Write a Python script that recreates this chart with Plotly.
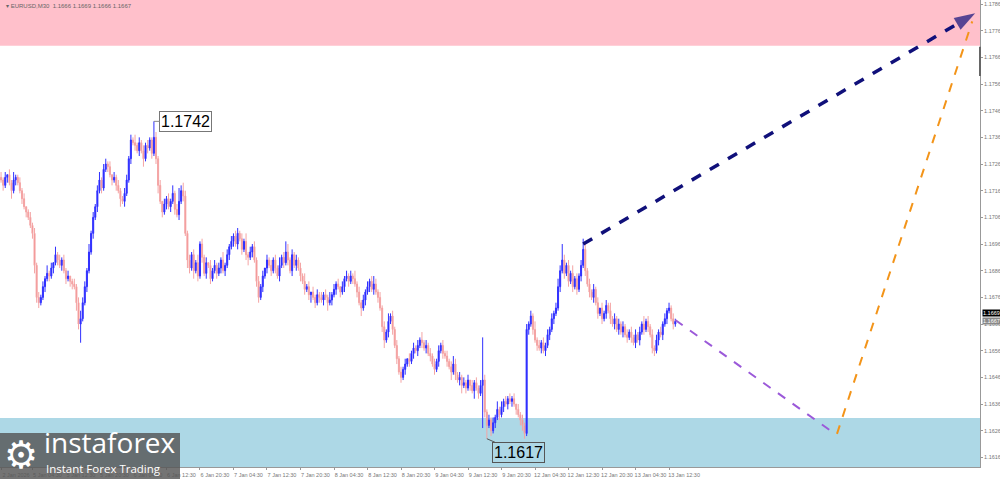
import pandas as pd
import plotly.graph_objects as go

# ---------------- data (prices in pips above 1.1600) ----------------
header_text = "\u25be EURUSD,M30  1.1666 1.1669 1.1666 1.1667"
first_open = 121
closes = [
    120, 118, 121, 122, 119, 116, 120, 121, 119, 116,
    113, 110, 108, 106, 103, 100, 88, 76, 74, 76,
    80, 83, 85, 84, 87, 89, 92, 90, 88, 90,
    86, 83, 84, 82, 81, 80, 74, 66, 68, 74,
    80, 86, 93, 100, 106, 110, 116, 120, 117, 124,
    126, 125, 122, 120, 121, 118, 116, 113, 112, 115,
    120, 128, 135, 134, 133, 131, 134, 131, 128, 133,
    132, 135, 130, 136, 128, 118, 112, 108, 111, 113,
    110, 112, 115, 109, 107, 112, 116, 114, 100, 90,
    87, 92, 86, 89, 84, 96, 91, 85, 89, 88,
    83, 86, 88, 85, 87, 90, 86, 88, 92, 95,
    97, 99, 96, 100, 98, 94, 97, 92, 91, 93,
    95, 90, 82, 76, 80, 84, 87, 90, 88, 86,
    90, 87, 84, 88, 91, 89, 93, 90, 86, 92,
    88, 90, 87, 84, 82, 79, 80, 77, 78, 76,
    74, 77, 76, 75, 77, 76, 74, 75, 77, 79,
    81, 80, 78, 80, 83, 84, 82, 84, 83, 81,
    78, 74, 72, 75, 78, 80, 82, 79, 81, 78,
    76, 72, 65, 60, 63, 67, 69, 64, 58, 53,
    48, 46, 49, 51, 53, 52, 55, 57, 56, 58,
    60, 59, 57, 58, 55, 54, 51, 49, 52, 56,
    58, 55, 54, 52, 50, 48, 51, 47, 45, 46,
    43, 44, 42, 45, 43, 41, 44, 42, 40, 43,
    45, 33, 28, 30, 26, 29, 31, 34, 32, 35,
    37, 36, 38, 37, 38, 36, 34, 32, 30, 28,
    25, 64, 66, 69, 64, 60, 58, 57, 59, 56,
    58, 62, 64, 68, 70, 72, 80, 86, 90, 85,
    88, 82, 85, 80, 83, 79, 84, 88, 94, 86,
    81, 78, 76, 79, 74, 70, 72, 68, 70, 73,
    71, 68, 66, 68, 64, 66, 63, 65, 62, 61,
    63, 61, 59, 62, 60, 63, 66, 64, 67, 65,
    62, 57, 56, 60, 63, 62, 66, 68, 71, 72,
    68, 66, 67,
]
upper_wick = [
    2, 1, 2, 0, 2, 1, 3, 1, 1, 2,
    1, 2, 0, 1, 2, 1, 2, 1, 2, 1,
    2, 1, 3, 1, 2, 0, 3, 1, 2, 1,
    2, 1, 2, 0, 1, 2, 1, 2, 3, 2,
    2, 1, 3, 1, 2, 1, 2, 3, 1, 2,
    2, 1, 2, 0, 2, 1, 2, 1, 1, 2,
    2, 1, 2, 1, 3, 1, 2, 1, 2, 1,
    2, 1, 1, 6, 2, 1, 2, 0, 2, 1,
    2, 1, 3, 1, 2, 5, 2, 3, 2, 1,
    2, 1, 2, 1, 3, 1, 2, 1, 2, 0,
    2, 1, 2, 1, 2, 1, 3, 1, 2, 1,
    2, 1, 2, 2, 1, 2, 1, 3, 1, 2,
    1, 2, 1, 2, 1, 2, 0, 2, 1, 2,
    1, 2, 1, 3, 1, 2, 4, 3, 1, 2,
    1, 2, 1, 2, 1, 3, 1, 2, 0, 2,
    1, 2, 1, 2, 1, 2, 1, 3, 1, 2,
    1, 2, 0, 2, 1, 2, 1, 2, 1, 3,
    1, 2, 1, 2, 1, 2, 1, 2, 3, 2,
    1, 2, 1, 2, 1, 3, 1, 2, 1, 2,
    1, 2, 1, 2, 0, 2, 1, 2, 1, 2,
    1, 3, 1, 2, 1, 2, 1, 2, 1, 2,
    1, 2, 1, 2, 1, 2, 3, 2, 1, 2,
    1, 2, 1, 2, 0, 2, 1, 2, 1, 2,
    16, 2, 1, 2, 1, 2, 1, 3, 1, 2,
    1, 2, 1, 2, 1, 2, 0, 2, 1, 2,
    1, 2, 1, 2, 1, 3, 1, 2, 1, 2,
    1, 2, 1, 2, 1, 2, 3, 2, 6, 2,
    1, 2, 1, 3, 1, 2, 1, 2, 4, 2,
    1, 2, 1, 2, 1, 2, 0, 2, 1, 2,
    1, 3, 1, 2, 1, 2, 1, 2, 1, 2,
    1, 2, 1, 2, 1, 2, 1, 3, 1, 2,
    1, 2, 1, 2, 1, 2, 1, 2, 1, 2,
    1, 2, 1,
]
lower_wick = [
    1, 2, 1, 2, 1, 3, 1, 2, 1, 1,
    2, 1, 2, 1, 1, 2, 3, 2, 2, 1,
    1, 2, 1, 2, 1, 2, 1, 2, 1, 2,
    1, 2, 1, 2, 2, 1, 3, 2, 7, 1,
    1, 2, 1, 1, 2, 1, 2, 1, 2, 1,
    1, 2, 1, 2, 1, 2, 1, 3, 1, 2,
    1, 1, 2, 1, 2, 1, 2, 1, 3, 1,
    2, 1, 2, 1, 2, 3, 1, 2, 1, 2,
    1, 2, 1, 2, 1, 2, 1, 2, 1, 3,
    2, 1, 3, 1, 2, 1, 2, 1, 2, 1,
    2, 1, 1, 2, 1, 2, 1, 2, 1, 2,
    1, 2, 1, 2, 1, 2, 1, 2, 3, 1,
    2, 1, 2, 2, 1, 2, 1, 2, 1, 2,
    1, 2, 1, 2, 1, 2, 1, 2, 1, 2,
    1, 2, 1, 2, 1, 2, 1, 2, 3, 1,
    2, 1, 2, 1, 2, 1, 3, 1, 2, 1,
    2, 1, 2, 1, 2, 1, 2, 1, 2, 1,
    2, 1, 3, 1, 2, 1, 2, 1, 2, 1,
    2, 1, 2, 3, 1, 2, 1, 2, 1, 2,
    1, 2, 1, 2, 1, 2, 1, 2, 1, 2,
    1, 2, 1, 2, 1, 2, 1, 2, 1, 2,
    1, 2, 1, 2, 1, 3, 1, 2, 1, 2,
    3, 1, 2, 1, 2, 1, 3, 1, 2, 1,
    16, 2, 5, 1, 2, 1, 2, 1, 2, 1,
    2, 1, 2, 1, 2, 1, 2, 1, 2, 2,
    2, 1, 2, 1, 2, 1, 2, 1, 2, 1,
    2, 1, 2, 1, 2, 1, 1, 2, 1, 2,
    1, 2, 1, 2, 1, 2, 1, 2, 1, 2,
    1, 2, 1, 2, 1, 2, 1, 2, 1, 2,
    1, 2, 1, 2, 1, 2, 1, 2, 1, 2,
    1, 2, 1, 2, 1, 2, 1, 2, 1, 2,
    1, 2, 2, 1, 2, 1, 2, 1, 2, 1,
    1, 2, 1,
]
first_bar_time = "2026-01-02 21:00"
x_tick_labels = ["2 Jan 2026", "5 Jan 04:30", "5 Jan 12:30", "5 Jan 20:30",
                 "6 Jan 04:30", "6 Jan 12:30", "6 Jan 20:30", "7 Jan 04:30",
                 "7 Jan 12:30", "7 Jan 20:30", "8 Jan 04:30", "8 Jan 12:30",
                 "8 Jan 20:30", "9 Jan 04:30", "9 Jan 12:30", "9 Jan 20:30",
                 "12 Jan 04:30", "12 Jan 12:30", "12 Jan 20:30", "13 Jan 04:30",
                 "13 Jan 12:30"]
y_ticks = [1.1616, 1.1626, 1.1636, 1.1646, 1.1656, 1.1666, 1.1676, 1.1686,
           1.1696, 1.1706, 1.1716, 1.1726, 1.1736, 1.1746, 1.1756, 1.1766,
           1.1776, 1.1786]
resistance_zone = [1.17703, 1.17875]
support_zone = [1.16124, 1.16308]
high_label = {"bar": 73, "text": "1.1742"}
low_label = {"bar": 232, "text": "1.1617"}
price_box_dark = [1.16703, "1.1669"]
price_box_grey = [1.16672, "1.1667"]
# forecast paths (bar index, price)
fc_main_x = [278, 465.2]
fc_main_y = [1.16960, 1.17825]
fc_down_x = [322, 398.3]
fc_down_y = [1.16675, 1.16248]
fc_up_x = [399.2, 463.8]
fc_up_y = [1.16248, 1.17795]
y_range = [1.16124, 1.17875]
x_range = [-0.5, 467.5]

# ---------------- build ----------------
assert len(closes) == len(upper_wick) == len(lower_wick)
N = len(closes)
BASE, PIP = 1.16, 0.0001
opens_p = [first_open] + closes[:-1]
O = [BASE + v * PIP for v in opens_p]
C = [BASE + v * PIP for v in closes]
H = [BASE + (max(o, c) + u) * PIP for o, c, u in zip(opens_p, closes, upper_wick)]
L = [BASE + (min(o, c) - d) * PIP for o, c, d in zip(opens_p, closes, lower_wick)]
X = list(range(N))

times = pd.date_range(first_bar_time, periods=N * 2, freq="30min")
times = times[times.dayofweek < 5][:N]
time_txt = [f"{t.day} {t:%b %H:%M}" for t in times]
tickvals = [0 if lab.endswith("2026") else time_txt.index(lab) for lab in x_tick_labels]

fig = go.Figure()
fig.add_trace(go.Candlestick(
    x=X, open=O, high=H, low=L, close=C,
    increasing=dict(line=dict(color="#3030ff", width=1), fillcolor="#1414ff"),
    decreasing=dict(line=dict(color="#f4a4a4", width=1), fillcolor="#f08080"),
    whiskerwidth=0, showlegend=False, hoverinfo="skip",
))

fig.add_trace(go.Scatter(x=fc_down_x, y=fc_down_y, mode="lines",
                         line=dict(color="#9b59d9", width=2, dash="dash"),
                         showlegend=False, hoverinfo="skip"))
fig.add_trace(go.Scatter(x=fc_up_x, y=fc_up_y, mode="lines",
                         line=dict(color="#f39419", width=2, dash="dash"),
                         showlegend=False, hoverinfo="skip"))
fig.add_trace(go.Scatter(x=fc_main_x, y=fc_main_y, mode="lines+markers",
                         line=dict(color="#10107a", width=3.5, dash="dash"),
                         marker=dict(symbol="arrow", size=[0, 22], angleref="previous",
                                     color="#10107a", line=dict(width=0)),
                         showlegend=False, hoverinfo="skip"))

shapes = [
    dict(type="rect", xref="paper", yref="y", x0=0, x1=1,
         y0=resistance_zone[0], y1=resistance_zone[1],
         fillcolor="#ffc0cb", line=dict(width=0), layer="below"),
    dict(type="rect", xref="paper", yref="y", x0=0, x1=1,
         y0=support_zone[0], y1=support_zone[1],
         fillcolor="#add8e6", line=dict(width=0), layer="below"),
    dict(type="line", xref="paper", yref="y", x0=1.0, x1=1.0,
         y0=1.1759, y1=1.1770, line=dict(color="#666", width=2)),
    # logo backdrop
    dict(type="rect", xref="paper", yref="paper", x0=0, x1=180 / 980,
         y0=-12 / 467, y1=34 / 467, fillcolor="rgba(85,85,85,0.82)",
         line=dict(width=0), layer="above"),
]

ann = [
    dict(xref="paper", yref="paper", x=0.004, y=0.998, xanchor="left", yanchor="top",
         text=header_text, showarrow=False, font=dict(size=6, color="#666",
                                                       family="Liberation Sans")),
    dict(x=high_label["bar"], y=H[high_label["bar"]], xref="x", yref="y",
         text=high_label["text"], showarrow=True, arrowhead=0, arrowwidth=1,
         arrowcolor="#888", ax=32, ay=0, bgcolor="white", bordercolor="#777",
         borderwidth=1, borderpad=1, font=dict(size=16, color="black",
                                               family="Liberation Sans")),
    dict(x=low_label["bar"], y=L[low_label["bar"]], xref="x", yref="y",
         text=low_label["text"], showarrow=True, arrowhead=0, arrowwidth=1,
         arrowcolor="#555", ax=32, ay=14, bgcolor="#add8e6", bordercolor="#555",
         borderwidth=1, borderpad=1, font=dict(size=16, color="black",
                                               family="Liberation Sans")),
    dict(xref="paper", yref="y", x=1.002, y=price_box_dark[0], xanchor="left",
         text=price_box_dark[1], showarrow=False, bgcolor="black", borderpad=0,
         font=dict(size=5.5, color="white", family="Liberation Sans")),
    dict(xref="paper", yref="y", x=1.002, y=price_box_grey[0], xanchor="left",
         text=price_box_grey[1], showarrow=False, bgcolor="#888", borderpad=0,
         font=dict(size=5.5, color="white", family="Liberation Sans")),
    # logo
    dict(xref="paper", yref="paper", x=2 / 980, y=-12 / 467, xanchor="left",
         yanchor="bottom", text="\u2699", showarrow=False,
         font=dict(size=38, color="white", family="DejaVu Sans")),
    dict(xref="paper", yref="paper", x=42 / 980, y=4 / 467, xanchor="left",
         yanchor="bottom", text="instaforex", showarrow=False,
         font=dict(size=28, color="white", family="Open Sans")),
    dict(xref="paper", yref="paper", x=44 / 980, y=-11 / 467, xanchor="left",
         yanchor="bottom", text="Instant Forex Trading", showarrow=False,
         font=dict(size=11.5, color="white", family="Open Sans")),
]

fig.update_layout(
    width=1000, height=479,
    margin=dict(l=0, r=20, t=0, b=12, autoexpand=False),
    paper_bgcolor="white", plot_bgcolor="white",
    shapes=shapes, annotations=ann, showlegend=False,
    xaxis=dict(range=x_range, rangeslider=dict(visible=False), type="linear",
               tickvals=tickvals, ticktext=x_tick_labels, ticks="outside",
               ticklen=2, tickcolor="#999", tickangle=0, ticklabelshift=15,
               ticklabelstandoff=0, ticklabeloverflow="allow",
               tickfont=dict(size=5.5, color="#777", family="Liberation Sans"),
               showgrid=False, zeroline=False, showline=True, linecolor="#999",
               mirror=True, fixedrange=True, automargin=False),
    yaxis=dict(range=y_range, side="right", tickvals=y_ticks,
               ticktext=[f"{v:.4f}" for v in y_ticks], ticks="outside", ticklen=2,
               tickcolor="#999", ticklabelstandoff=0, ticklabeloverflow="allow",
               tickfont=dict(size=5.5, color="#777", family="Liberation Sans"),
               showgrid=False, zeroline=False, showline=True, linecolor="#999",
               mirror=True, fixedrange=True, automargin=False),
)

fig.write_html("out.html", config={"displayModeBar": False},
               post_script="document.body.style.margin='0';document.body.style.overflow='hidden';")
